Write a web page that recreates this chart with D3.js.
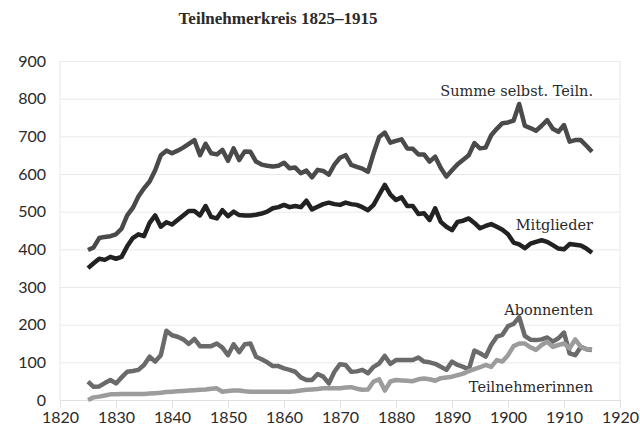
<!DOCTYPE html>
<html>
<head>
<meta charset="utf-8">
<script src="https://cdn.jsdelivr.net/npm/d3@7"></script>
<style>
  body { margin: 0; background: #fff; }
  svg text { font-family: "DejaVu Serif", serif; fill: #2a2a2a; }
  .tick text { font-family: "Lato", "Noto Sans", sans-serif; }
</style>
</head>
<body>
<div id="wrapper"></div>
<script>
const years = d3.range(1825, 1916)

const summe = [398,405,430,433,435,440,455,490,510,540,562,580,610,650,662,655,662,670,680,690,
  650,680,655,652,664,635,668,637,660,659,633,625,622,620,622,630,615,617,602,609,
  591,611,608,598,625,643,650,624,619,614,606,655,698,710,683,688,692,668,667,652,
  652,633,646,616,593,610,626,638,650,682,668,670,703,720,735,737,742,786,728,722,
  715,728,743,720,712,730,686,690,690,675,659]

const mitglieder = [350,363,375,372,380,375,380,408,430,440,435,470,490,460,472,466,478,490,502,502,
  490,515,486,482,504,488,500,491,490,490,492,495,500,509,512,518,512,515,512,529,
  506,513,520,524,520,518,524,520,518,512,504,518,545,571,545,531,538,515,515,494,
  496,478,509,473,460,451,473,476,482,470,456,462,467,460,452,440,418,413,403,415,
  420,424,420,411,402,400,414,412,410,402,391]

const abonnenten = [49,35,36,45,53,44,60,75,77,80,93,115,102,119,184,172,168,161,149,162,
  143,143,143,150,139,119,148,127,148,150,115,108,100,90,90,84,80,75,60,53,
  53,69,62,44,75,95,93,75,76,80,71,88,97,117,96,106,106,106,106,113,
  102,100,96,88,80,102,93,88,81,131,124,115,146,168,173,196,202,220,170,160,
  159,161,166,155,164,179,124,119,141,135,133]

const teilnehmerinnen = [0,7,9,12,15,15,16,16,16,16,16,17,18,19,21,22,23,24,25,26,
  27,28,30,31,22,24,25,25,23,22,22,22,22,22,22,22,22,23,25,27,
  28,29,31,31,31,31,33,34,30,27,28,49,55,25,49,53,52,51,50,55,
  57,55,51,58,60,62,66,70,77,82,87,93,88,106,102,119,143,150,150,140,
  133,146,155,141,146,150,137,161,141,135,135]

const xTicks = d3.range(1820, 1921, 10)
const yTicks = d3.range(0, 901, 100)

const series = [
  { name: "Summe selbst. Teiln.", values: summe, color: "#4a4a4a", labelY: 96 },
  { name: "Mitglieder", values: mitglieder, color: "#222222", labelY: 230 },
  { name: "Abonnenten", values: abonnenten, color: "#6a6a6a", labelY: 315 },
  { name: "Teilnehmerinnen", values: teilnehmerinnen, color: "#9c9c9c", labelY: 392 }
]

let dimensions = {
  width: 640,
  height: 430,
  margin: { top: 61, right: 20, bottom: 30, left: 60 }
}
dimensions.boundedWidth = dimensions.width - dimensions.margin.left - dimensions.margin.right
dimensions.boundedHeight = dimensions.height - dimensions.margin.top - dimensions.margin.bottom

const wrapper = d3.select('#wrapper')
  .append('svg')
  .attr('width', dimensions.width)
  .attr('height', dimensions.height)

const bounds = wrapper.append('g')
  .attr('transform', `translate(${dimensions.margin.left},${dimensions.margin.top})`)

const xScale = d3.scaleLinear()
  .domain([1820, 1920])
  .range([0, dimensions.boundedWidth])
const yScale = d3.scaleLinear()
  .domain([0, 900])
  .range([dimensions.boundedHeight, 0])

// gridlines + y labels
const yAxis = bounds.append('g')
  .call(d3.axisLeft(yScale).tickValues(yTicks).tickSize(-dimensions.boundedWidth).tickPadding(14).tickFormat(d3.format('d')))
yAxis.select('.domain').remove()
yAxis.selectAll('line').attr('stroke', '#e9e9e9')
yAxis.selectAll('text').style('font-size', '16px').attr('fill', '#2a2a2a')

// side frame lines
bounds.selectAll('.vline')
  .data([1820, 1920])
  .enter()
  .append('line')
  .attr('x1', d => xScale(d))
  .attr('x2', d => xScale(d))
  .attr('y1', yScale(900))
  .attr('y2', yScale(0))
  .attr('stroke', '#e9e9e9')

const xAxis = bounds.append('g')
  .attr('transform', `translate(0,${dimensions.boundedHeight})`)
  .call(d3.axisBottom(xScale).tickValues(xTicks).tickSize(8).tickPadding(4).tickFormat(d3.format('d')))
xAxis.select('.domain').attr('stroke', '#e0e0e0')
xAxis.selectAll('line').attr('stroke', '#e0e0e0')
xAxis.selectAll('text').style('font-size', '16px').attr('fill', '#2a2a2a')

const lineGen = d3.line()
  .x((d, i) => xScale(years[i]))
  .y(d => yScale(d))

series.forEach(s => {
  bounds.append('path')
    .datum(s.values)
    .attr('d', lineGen)
    .attr('fill', 'none')
    .attr('stroke', s.color)
    .attr('stroke-width', 4.5)
    .attr('stroke-linejoin', 'round')

  wrapper.append('text')
    .attr('x', 593)
    .attr('y', s.labelY)
    .attr('text-anchor', 'end')
    .style('font-size', '14.5px')
    .text(s.name)
})

wrapper.append('text')
  .attr('x', 278)
  .attr('y', 24)
  .attr('text-anchor', 'middle')
  .style('font-family', '"Liberation Serif", serif')
  .style('font-size', '17px')
  .style('font-weight', 'bold')
  .text('Teilnehmerkreis 1825–1915')
</script>
</body>
</html>
